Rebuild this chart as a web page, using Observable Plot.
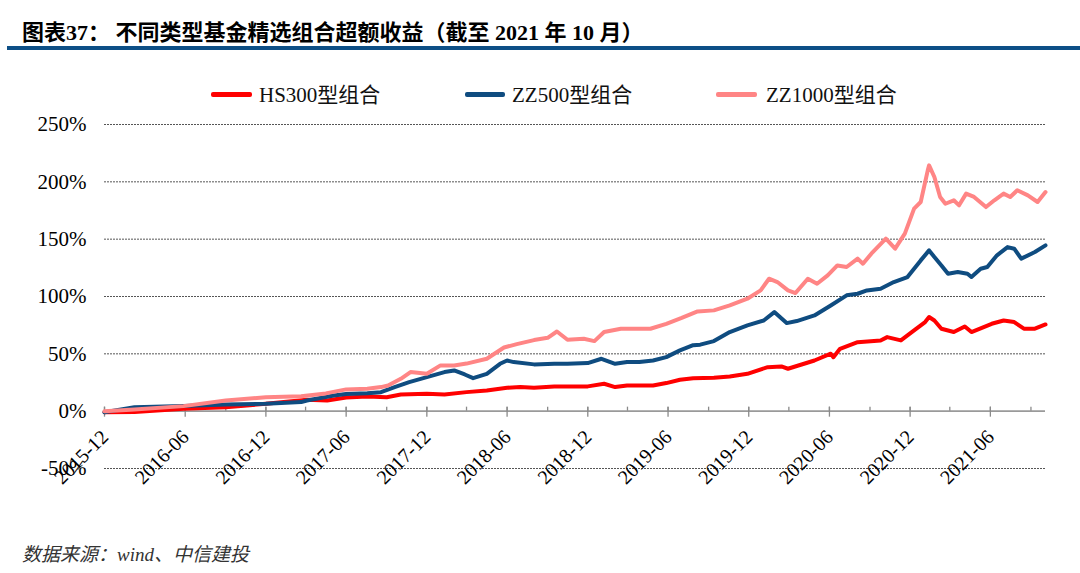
<!DOCTYPE html>
<html><head><meta charset="utf-8">
<script src="https://cdn.jsdelivr.net/npm/d3@7"></script>
<script src="https://cdn.jsdelivr.net/npm/@observablehq/plot@0.6"></script>
<style>
body{margin:0;background:#fff;width:1080px;height:573px;overflow:hidden;font-family:"Liberation Serif","Noto Sans CJK SC",serif;color:#000;}
#title{position:relative;height:46px;}
#title span{position:absolute;left:22px;top:20px;font-size:22px;font-weight:bold;line-height:26px;white-space:nowrap;}
#rule{margin-left:7px;height:4px;background:#0d4f86;}
#legend{position:relative;height:60px;}
.sw{position:absolute;top:42px;height:5px;border-radius:2px;}
.lt{position:absolute;top:32px;font-size:21px;line-height:26px;white-space:nowrap;color:#111;}
#chart{height:400px;}
#caption{margin-top:32px;margin-left:22px;font-size:19px;line-height:26px;font-style:italic;color:#333;white-space:nowrap;}
</style></head>
<body>
<div id="title"><span>图表37： 不同类型基金精选组合超额收益（截至 2021 年 10 月）</span></div>
<div id="rule"></div>
<div id="legend"></div>
<div id="chart"></div>
<div id="caption">数据来源：wind、中信建投</div>
<script>
// ---- data ----
const seriesNames = ["HS300型组合", "ZZ500型组合", "ZZ1000型组合"];
const seriesColors = ["#ff0000", "#0f4c80", "#ff8585"];
const yTicks = [-50, 0, 50, 100, 150, 200, 250];
const xTickLabels = ["2015-12","2016-06","2016-12","2017-06","2017-12","2018-06","2018-12","2019-06","2019-12","2020-06","2020-12","2021-06"];
const xDomain = ["2015-12-01", "2021-10-04"];

const hs300Dates = ["2015-12-01","2016-02-07","2016-05-28","2016-09-01","2016-12-01","2017-03-04","2017-04-19","2017-06-01","2017-07-19","2017-09-01","2017-10-03","2017-12-01","2018-01-10","2018-03-01","2018-04-16","2018-06-01","2018-07-01","2018-08-01","2018-09-16","2018-12-01","2019-01-07","2019-02-01","2019-02-28","2019-04-28","2019-05-28","2019-06-28","2019-07-28","2019-09-13","2019-10-19","2019-11-28","2020-01-13","2020-02-13","2020-02-28","2020-04-28","2020-06-04","2020-06-10","2020-06-25","2020-08-04","2020-09-25","2020-10-10","2020-11-10","2020-12-10","2021-01-04","2021-01-13","2021-01-25","2021-02-10","2021-03-10","2021-04-04","2021-04-19","2021-06-04","2021-07-01","2021-07-25","2021-08-16","2021-09-10","2021-10-04"];
const hs300Values = [-1,-0.8,2.1,3.5,6.4,9.9,9.3,12.0,12.8,12.2,14.5,15.2,14.5,16.6,18.1,20.4,21.0,20.4,21.6,21.6,23.9,21.0,22.4,22.4,24.5,27.4,28.8,29.1,30.3,32.6,38.4,39.0,37.0,44.2,50.1,47.1,54.4,60.2,61.7,64.6,61.7,70.4,77.7,82.1,79.1,71.9,69.0,73.9,69.0,76.2,79.1,77.7,71.9,71.9,75.6];

const zz500Dates = ["2015-12-01","2016-02-07","2016-05-28","2016-09-01","2016-12-01","2017-02-19","2017-03-04","2017-05-04","2017-06-01","2017-07-19","2017-08-19","2017-09-19","2017-10-22","2017-12-01","2018-01-10","2018-02-01","2018-02-25","2018-03-16","2018-04-16","2018-05-16","2018-06-01","2018-06-16","2018-08-01","2018-09-16","2018-10-16","2018-12-01","2019-01-01","2019-02-01","2019-02-28","2019-03-28","2019-04-28","2019-05-28","2019-06-28","2019-07-28","2019-08-13","2019-09-13","2019-10-19","2019-11-28","2020-01-04","2020-01-28","2020-02-25","2020-03-19","2020-04-28","2020-06-04","2020-07-10","2020-08-04","2020-08-25","2020-09-25","2020-10-25","2020-11-25","2020-12-25","2021-01-13","2021-01-25","2021-02-10","2021-02-25","2021-03-19","2021-04-10","2021-04-19","2021-05-10","2021-05-25","2021-06-16","2021-07-10","2021-07-25","2021-08-10","2021-09-10","2021-10-04"];
const zz500Values = [-1,3.5,4.4,5.8,6.4,7.9,9.3,13.7,15.0,15.7,16.6,21.0,25.3,29.7,34.1,35.5,32.0,28.8,32.6,41.3,44.2,42.8,40.8,41.3,41.3,41.9,45.7,41.3,42.8,42.8,44.2,47.1,53.0,57.5,58.0,61.1,69.0,74.8,79.1,86.4,76.8,78.6,83.5,92.2,101.0,102.4,105.3,106.8,112.6,117.0,131.5,140.2,134.4,127.1,119.9,121.3,119.9,117.0,124.2,125.7,135.9,143.1,141.7,133.0,138.8,144.6];

const zz1000Dates = ["2015-12-01","2016-02-07","2016-05-28","2016-09-01","2016-12-01","2017-02-19","2017-04-16","2017-06-01","2017-07-19","2017-08-19","2017-09-04","2017-10-03","2017-10-25","2017-12-01","2018-01-01","2018-02-01","2018-03-01","2018-04-16","2018-05-25","2018-06-23","2018-08-01","2018-09-01","2018-09-22","2018-10-16","2018-11-22","2018-12-16","2019-01-07","2019-02-14","2019-03-14","2019-04-22","2019-05-28","2019-07-02","2019-08-07","2019-09-13","2019-10-19","2019-11-28","2019-12-28","2020-01-16","2020-02-04","2020-02-28","2020-03-16","2020-04-13","2020-05-04","2020-05-28","2020-06-19","2020-07-10","2020-08-04","2020-08-16","2020-09-04","2020-10-07","2020-10-28","2020-11-19","2020-12-10","2020-12-25","2021-01-10","2021-01-13","2021-01-25","2021-02-07","2021-02-19","2021-03-10","2021-03-22","2021-04-07","2021-04-25","2021-05-22","2021-06-10","2021-07-01","2021-07-16","2021-08-01","2021-08-25","2021-09-16","2021-10-04"];
const zz1000Values = [0,1.5,4.4,9.3,12.2,13.0,15.5,19.0,19.5,21.0,22.4,28.2,34.1,32.6,39.9,39.9,41.5,45.7,55.5,58.5,62.0,64.0,69.5,62.3,63.1,61.1,69.0,71.9,71.9,71.9,76.2,81.3,87.0,87.9,92.2,98.1,105.3,115.5,112.6,105.3,103.0,115.5,111.1,118.4,127.1,125.7,133.0,128.6,137.3,150.4,141.7,154.8,176.6,182.4,210.0,214.4,204.2,186.8,180.9,183.9,179.5,189.7,186.8,178.0,183.9,189.7,186.8,192.6,188.2,182.4,191.1];

// ---- build ----
const parse = d3.utcParse("%Y-%m-%d");
const parseM = d3.utcParse("%Y-%m");
function toRows(dates, values, name){ return dates.map((d,i)=>({date: parse(d), value: values[i], series: name})); }
const allDates = [hs300Dates, zz500Dates, zz1000Dates];
const allValues = [hs300Values, zz500Values, zz1000Values];
const rows = allDates.map((ds,k)=>toRows(ds, allValues[k], seriesNames[k]));

// legend
const legendPos = [[211,41,259],[465,40,512],[716,41,766]];
const leg = document.getElementById("legend");
seriesNames.forEach((n,i)=>{
  const s = document.createElement("div"); s.className="sw";
  s.style.left = legendPos[i][0]+"px"; s.style.width = legendPos[i][1]+"px"; s.style.background = seriesColors[i];
  const t = document.createElement("div"); t.className="lt"; t.style.left = legendPos[i][2]+"px"; t.textContent = n;
  leg.appendChild(s); leg.appendChild(t);
});

const W = 1080, mT = 14, mB = 42, plotH = 344;
const pxPerUnit = plotH / (yTicks[yTicks.length-1] - yTicks[0]);
const axisDy = -(0 - yTicks[0]) * pxPerUnit; // shift from bottom to y=0
const x0 = parse(xDomain[0]), x1 = parse(xDomain[1]);
const majorTicks = d3.utcMonth.range(x0, x1, 6);
const minorTicks = d3.utcMonth.range(x0, x1, 3);
const labelRows = xTickLabels.map(s=>({date: parseM(s), label: s}));

const chart = Plot.plot({
  width: W, height: mT + plotH + mB,
  marginTop: mT, marginBottom: mB, marginLeft: 104, marginRight: 35,
  style: {fontFamily: '"Liberation Serif","Noto Sans CJK SC",serif', fontSize: "21px", color: "#000", background: "#fff"},
  x: {type: "utc", domain: [x0, x1]},
  y: {domain: [yTicks[0], yTicks[yTicks.length-1]]},
  marks: [
    Plot.ruleY(yTicks.filter(v=>v!==0), {stroke: "#555", strokeWidth: 1, strokeDasharray: "2,1"}),
    Plot.axisY({ticks: yTicks, tickSize: 0, tickPadding: 18, tickFormat: d => d + "%", label: null, fontSize: 21}),
    Plot.ruleY([0], {stroke: "#9a9a9a", strokeWidth: 1.6}),
    Plot.axisX({ticks: majorTicks, anchor: "bottom", dy: axisDy - 4, tickSize: 10, tickFormat: () => "", label: null, stroke: "#8a8a8a", strokeWidth: 1.3}),
    Plot.axisX({ticks: minorTicks, anchor: "bottom", dy: axisDy - 4, tickSize: 4, tickFormat: () => "", label: null, stroke: "#8a8a8a", strokeWidth: 1.3}),
    Plot.text(labelRows, {x: "date", y: () => 0, text: "label", rotate: -45, textAnchor: "end", lineAnchor: "bottom", dx: 5, dy: 27, fontSize: 20, fill: "#000"}),
    ...rows.map((r,k)=>Plot.lineY(r, {x: "date", y: "value", stroke: seriesColors[k], strokeWidth: 4, strokeLinejoin: "round", strokeLinecap: "round"}))
  ]
});
document.getElementById("chart").appendChild(chart);
</script>
</body></html>
